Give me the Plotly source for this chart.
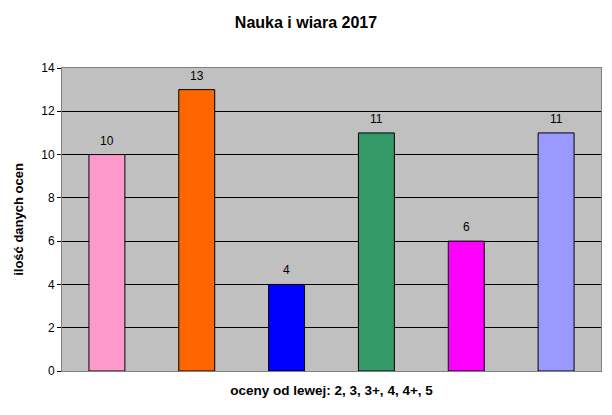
import plotly.graph_objs as go

# dane
oceny = ['2', '3', '3+', '4', '4+', '5']
liczba = [10, 13, 4, 11, 6, 11]
kolory = ['#FF99CC', '#FF6600', '#0000FF', '#339966', '#FF00FF', '#9999FF']
y_ticks = [0, 2, 4, 6, 8, 10, 12, 14]

fig = go.Figure()

fig.add_trace(
    go.Bar(
        x = oceny,
        y = liczba,
        marker = dict(
            color = kolory,
            line = dict(color = 'black', width = 1)
        ),
        width = 0.4,
        showlegend = False
    )
)

# etykiety wartosci nad slupkami (x jako indeks kategorii)
for i, v in enumerate(liczba):
    fig.add_annotation(
        x = i, y = v,
        text = str(v),
        showarrow = False,
        yanchor = 'bottom',
        yshift = 5,
        font = dict(size = 12, color = 'black')
    )

fig.update_layout(
    width = 612,
    height = 415,
    margin = dict(l = 62, r = 11, t = 68, b = 44),
    paper_bgcolor = 'white',
    plot_bgcolor = '#C0C0C0',
    font = dict(family = 'Liberation Sans, Arial, sans-serif', color = 'black', size = 12),
    title = dict(
        text = '<b>Nauka i wiara 2017</b>',
        x = 0.5,
        xanchor = 'center',
        y = 0.947,
        yanchor = 'middle',
        font = dict(size = 16)
    ),
    bargap = 0.6
)

fig.update_xaxes(
    type = 'category',
    showticklabels = False,
    ticks = '',
    showgrid = False,
    showline = True,
    linecolor = '#808080',
    linewidth = 1,
    mirror = True,
    automargin = False,
    title = dict(text = '<b>oceny od lewej: 2, 3, 3+, 4, 4+, 5</b>', font = dict(size = 13.5), standoff = 14)
)

fig.update_yaxes(
    range = [0, 14],
    tickvals = y_ticks,
    ticks = 'outside',
    ticklen = 4,
    tickcolor = 'black',
    showgrid = True,
    gridcolor = 'black',
    gridwidth = 1,
    zeroline = False,
    showline = True,
    linecolor = '#808080',
    linewidth = 1,
    mirror = True,
    automargin = False,
    title = dict(text = '<b>ilość danych ocen</b>', font = dict(size = 13), standoff = 14)
)

fig.write_html(
    "out.html",
    config = {'displayModeBar': False},
    post_script = "document.body.style.margin = '0';"
)
